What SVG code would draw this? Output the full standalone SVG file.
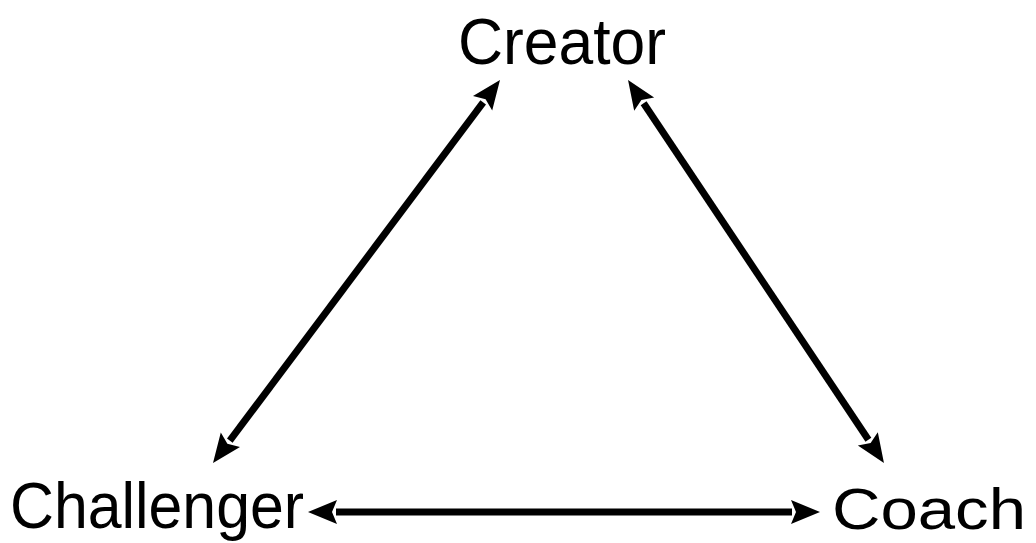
<svg xmlns="http://www.w3.org/2000/svg" width="1036" height="543" viewBox="0 0 1036 543">
<style>
.lbl{font-family:"Liberation Sans","DejaVu Sans",sans-serif;font-size:64px;fill:#000}
.sm{font-size:58px}
.conn{stroke:#000;stroke-width:7;fill:none}
</style>
<defs>
<marker id="ah" markerUnits="userSpaceOnUse" viewBox="-3 -14 33 28" markerWidth="33" markerHeight="28" refX="0" refY="0" orient="auto-start-reverse">
<path d="M-1,-12 L28,0 L-1,12 L4,0 z" fill="#000"/>
</marker>
</defs>
<rect width="1036" height="543" fill="#fff"/>
<g id="connectors">
<line class="conn" x1="483.2" y1="102.4" x2="229.8" y2="440.6" marker-start="url(#ah)" marker-end="url(#ah)"/>
<line class="conn" x1="643.6" y1="103.3" x2="868.4" y2="439.7" marker-start="url(#ah)" marker-end="url(#ah)"/>
<line class="conn" x1="336" y1="512" x2="792" y2="512" marker-start="url(#ah)" marker-end="url(#ah)"/>
</g>
<g id="creator"><text class="lbl" x="458" y="64" textLength="208" lengthAdjust="spacingAndGlyphs">Creator</text></g>
<g id="challenger"><text class="lbl" x="10" y="528" textLength="294" lengthAdjust="spacingAndGlyphs">Challenger</text></g>
<g id="coach"><text class="lbl sm" x="832" y="529" textLength="194" lengthAdjust="spacingAndGlyphs">Coach</text></g>
</svg>
